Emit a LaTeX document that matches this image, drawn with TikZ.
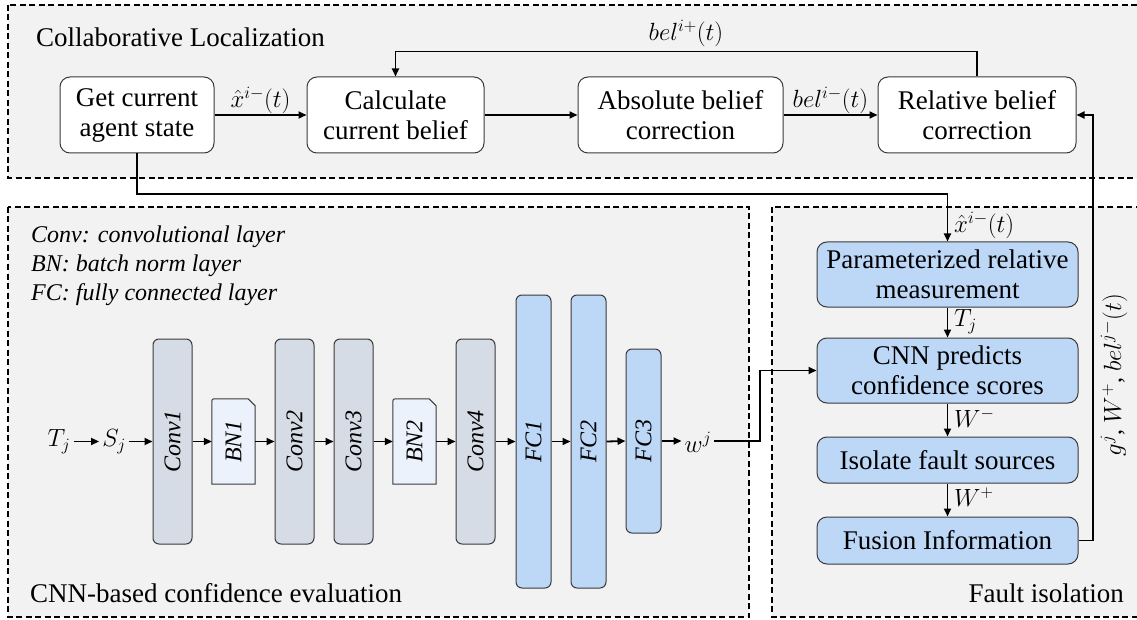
\documentclass[tikz,border=0pt]{standalone}
\usepackage{fontspec}
\setmainfont{Liberation Serif}
\usetikzlibrary{arrows.meta,calc}

\definecolor{panelgray}{HTML}{F2F2F2}
\definecolor{convgray}{HTML}{D6DCE5}
\definecolor{fcblue}{HTML}{BDD7F7}
\definecolor{bnfill}{HTML}{EBF2FC}
\definecolor{edge}{HTML}{3A3A3A}

\newcommand\boxfont{\fontsize{27}{30}\selectfont}
\newcommand\legfont{\fontsize{24}{28}\selectfont\itshape}
\newcommand\lblfont{\fontsize{24}{28}\selectfont}
\newcommand\barfont{\fontsize{24}{28}\selectfont\itshape}

\begin{document}
\begin{tikzpicture}[x=1pt,y=-1pt,
  panel/.style={draw=black, fill=panelgray, line width=1.1pt, dash pattern=on 6pt off 3.5pt},
  flow/.style={draw=edge, line width=1pt, rounded corners=10pt, align=center, font=\boxfont, inner sep=0pt},
  whitebox/.style={flow, fill=white},
  bluebox/.style={flow, fill=fcblue},
  bar/.style={draw=edge, line width=1pt, rounded corners=6pt, inner sep=0pt},
  convbar/.style={bar, fill=convgray, minimum width=39pt, minimum height=205pt},
  fcbar/.style={bar, fill=fcblue, minimum width=35pt},
  bnslot/.style={inner sep=0pt, minimum width=43pt, minimum height=85pt},
  bnshape/.style={draw=edge, line width=1pt, fill=bnfill},
  barlabel/.style={rotate=90, font=\barfont, inner sep=0pt},
  lbl/.style={font=\lblfont, inner sep=3pt},
  title/.style={font=\boxfont, inner sep=0pt},
  legend/.style={font=\legfont, inner sep=0pt, anchor=west},
  conn/.style={line width=1.8pt, -{Triangle[length=8pt,width=7pt]}},
]
\clip (0,0) rectangle (1137,620);
\fill[white] (0,0) rectangle (1137,620);

% dashed panels
\path[panel] (8,5) rectangle (1150,178);
\path[panel] (8,207) rectangle (749,617);
\path[panel] (772,207) rectangle (1150,617);

% panel titles
\node[title, anchor=west] (tcl) at (36,37) {Collaborative Localization};
\node[title, anchor=west] (tcnn) at (30,593) {CNN-based confidence evaluation};
\node[title, anchor=east] (tfi) at (1124,593) {Fault isolation};

% collaborative localization loop
\node[whitebox, minimum width=154pt, minimum height=76pt] (get) at (137,115) {Get current\\agent state};
\node[whitebox, minimum width=177pt, minimum height=76pt] (calc) at (395.5,115) {Calculate\\current belief};
\node[whitebox, minimum width=205pt, minimum height=76pt] (abs) at (680.5,115) {Absolute belief\\correction};
\node[whitebox, minimum width=198pt, minimum height=76pt] (rel) at (977,115) {Relative belief\\correction};

\draw[conn] (get) -- (calc);
\node[lbl] (lx1) at (260.5,100) {$\hat{x}^{i-}(t)$};
\draw[conn] (calc) -- (abs);
\draw[conn] (abs) -- (rel);
\node[lbl] (lb1) at (830.5,100) {$bel^{i-}(t)$};
\draw[conn] (rel.north) -- ++(0,-25) -| (calc.north);
\node[lbl] (lb2) at (686,33) {$bel^{i+}(t)$};

% fault isolation chain
\node[bluebox, minimum width=261pt, minimum height=65pt] (param) at (947.5,274.5) {Parameterized relative\\measurement};
\node[bluebox, minimum width=261pt, minimum height=65pt] (cnn) at (947.5,370.5) {CNN predicts\\confidence scores};
\node[bluebox, minimum width=261pt, minimum height=46pt] (iso) at (947.5,460) {Isolate fault sources};
\node[bluebox, minimum width=261pt, minimum height=47pt] (fus) at (947.5,540.5) {Fusion Information};

\draw[conn] (get.south) |- (947.5,194) -- (param.north);
\node[lbl, anchor=west] (lx2) at (951,225) {$\hat{x}^{i-}(t)$};
\draw[conn] (param) -- (cnn);
\node[lbl, anchor=west] (ltj) at (951,322) {$T_j$};
\draw[conn] (cnn) -- (iso);
\node[lbl, anchor=west] (lwm) at (951,418) {$W^{-}$};
\draw[conn] (iso) -- (fus);
\node[lbl, anchor=west] (lwp) at (951,497) {$W^{+}$};

\draw[conn] (fus.east) -- (1093,540.5) |- (rel.east);
\node[lbl, rotate=90] (lg) at (1114,375) {$g^j$, $W^{+}$, $bel^{j-}(t)$};

% legend
\node[legend] (leg1) at (31,237) {Conv: convolutional layer};
\node[legend] (leg2) at (31,266) {BN: batch norm layer};
\node[legend] (leg3) at (31,295) {FC: fully connected layer};

% network layers
\node[convbar] (c1) at (172.5,441.5) {};
\node[bnslot] (bn1) at (233.5,441.5) {};
\node[convbar] (c2) at (294.5,441.5) {};
\node[convbar] (c3) at (353.5,441.5) {};
\node[bnslot] (bn2) at (414.5,441.5) {};
\node[convbar] (c4) at (475.5,441.5) {};
\node[fcbar, minimum height=293pt] (fc1) at (533.5,441.5) {};
\node[fcbar, minimum height=293pt] (fc2) at (588.5,441.5) {};
\node[fcbar, minimum height=184pt] (fc3) at (643.5,441) {};

\foreach \b in {bn1,bn2}{
  \draw[bnshape] (\b.south west) -- ($(\b.north west)+(0,5)$)
    .. controls (\b.north west) .. ($(\b.north west)+(5,0)$)
    -- ($(\b.north east)+(-7,0)$) -- ($(\b.north east)+(0,7)$)
    -- (\b.south east) -- cycle;
}

\node[barlabel] (c1t) at (c1) {Conv1};
\node[barlabel] (bn1t) at (bn1) {BN1};
\node[barlabel] (c2t) at (c2) {Conv2};
\node[barlabel] (c3t) at (c3) {Conv3};
\node[barlabel] (bn2t) at (bn2) {BN2};
\node[barlabel] (c4t) at (c4) {Conv4};
\node[barlabel] (fc1t) at (fc1) {FC1};
\node[barlabel] (fc2t) at (fc2) {FC2};
\node[barlabel] (fc3t) at (fc3) {FC3};

% input and output of the network
\node[lbl] (tj) at (59,442) {$T_j$};
\node[lbl] (sj) at (114,442) {$S_j$};
\node[lbl] (wj) at (698,442) {$w^j$};

\draw[conn] (tj.east |- c1) -- (sj.west |- c1);
\draw[conn] (sj.east |- c1) -- (c1.west);
\draw[conn] (c1.east) -- (bn1.west);
\draw[conn] (bn1.east) -- (c2.west);
\draw[conn] (c2.east) -- (c3.west);
\draw[conn] (c3.east) -- (bn2.west);
\draw[conn] (bn2.east) -- (c4.west);
\draw[conn] (c4.east) -- (fc1.west);
\draw[conn] (fc1.east) -- (fc2.west);
\draw[conn] (fc2.east) -- (fc3.west);
\draw[conn] (fc3.east) -- (wj.west |- fc3);
\draw[conn] (wj.east |- fc3) -- (760,441) |- (cnn.west);
\end{tikzpicture}
\end{document}
